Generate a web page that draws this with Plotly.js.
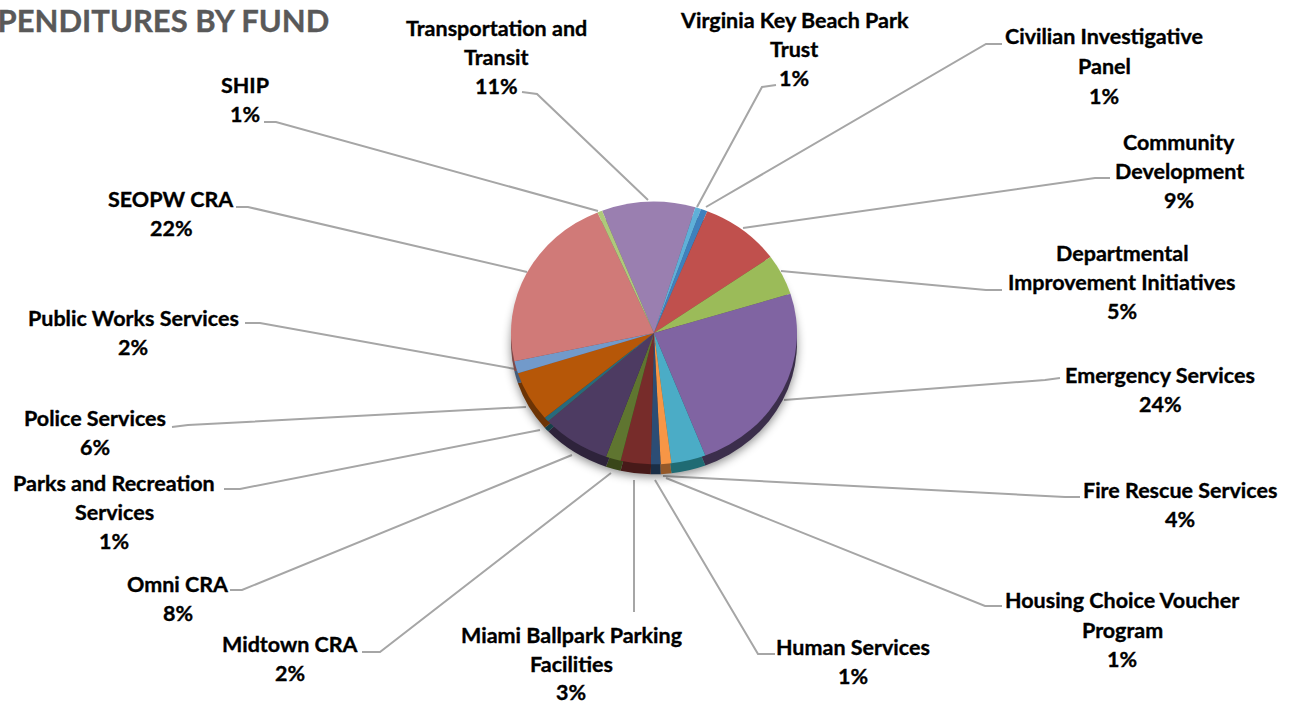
<!DOCTYPE html>
<html>
<head>
<meta charset="utf-8">
<script src="https://cdn.plot.ly/plotly-3.0.1.min.js"></script>
<style>html,body{margin:0;padding:0;background:#fff;overflow:hidden}#chart{width:1293px;height:702px}</style>
</head>
<body>
<div id="chart"></div>
<script>
var W = 1293, H = 702;
var categories = ["Transportation and Transit","Virginia Key Beach Park Trust","Civilian Investigative Panel","Community Development","Departmental Improvement Initiatives","Emergency Services","Fire Rescue Services","Housing Choice Voucher Program","Human Services","Miami Ballpark Parking Facilities","Midtown CRA","Omni CRA","Parks and Recreation Services","Police Services","Public Works Services","SEOPW CRA","SHIP"];
var values = [10.6,0.65,0.75,9.1,5.0,24.0,3.9,1.2,1.1,3.4,1.7,7.8,0.6,6.2,1.5,22.0,0.55];
var percentLabels = ["11%","1%","1%","9%","5%","24%","4%","1%","1%","3%","2%","8%","1%","6%","2%","22%","1%"];
var labelLines = [["Transportation and","Transit"],["Virginia Key Beach Park","Trust"],["Civilian Investigative","Panel"],["Community","Development"],["Departmental","Improvement Initiatives"],["Emergency Services"],["Fire Rescue Services"],["Housing Choice Voucher","Program"],["Human Services"],["Miami Ballpark Parking","Facilities"],["Midtown CRA"],["Omni CRA"],["Parks and Recreation","Services"],["Police Services"],["Public Works Services"],["SEOPW CRA"],["SHIP"]];
var colors = ["#9a7fb0","#5fb0d8","#3f80bd","#c0504d","#9bbb59","#8064a2","#4bacc6","#f79646","#2c4d75","#772c2a","#5f7530","#4d3b62","#276a7c","#b65708","#729aca","#d07a78","#afc97a"];
var rimColors = ["#5c4c6a","#396a82","#264d72","#73302e","#5d7035","#3b2e4b","#1f6b73","#94592a","#1a2e46","#471a19","#394619","#2e233b","#17404a","#6d3405","#445c79","#7d4948","#69784a"];
var labelCenterX = [496,794,1104,1179,1122,1160,1180,1122,853,571,290,178,114,95,133,171,245];
var labelFirstY = [28,20,36,142,253,375,490,600,647,635,644,584,483,418,318,199,85];
var labelStep = [29,29,30,29,29,29,29,29.5,29,28.5,29,29,29,29,29,29,29];
var leaderPaths = [
 [[522,92],[537,94],[648,200]],
 [[776,85],[762,87],[697,207]],
 [[1002,44],[986,44],[706,207]],
 [[1110,178],[1095,178],[743,228]],
 [[1002,290],[986,290],[781,271]],
 [[1060,378],[1045,380],[784,400]],
 [[1080,497],[1065,497],[663,476]],
 [[1002,606],[985,606],[666,478]],
 [[775,654],[758,654],[655,480]],
 [[634,612],[634,480]],
 [[362,652],[380,652],[611,473]],
 [[230,590],[242,590],[572,455]],
 [[224,489],[240,489],[540,430]],
 [[172,427],[188,425],[526,407]],
 [[245,323],[260,323],[515,369]],
 [[236,207],[248,207],[527,272]],
 [[264,122],[276,122],[598,211]]
];
var faceCenterY = 333, rimCenterY = 343, radius = 143, centerX = 654, squash = 0.918;
var textFamily = "Lato, 'Open Sans', sans-serif";

function pieDomain(cy){
  return {x:[(centerX-radius-1)/W,(centerX+radius+1)/W], y:[(H-cy-radius)/H,(H-cy+radius)/H]};
}
function pieTrace(cy, cols){
  return {type:"pie", labels:categories, values:values, sort:false, direction:"clockwise", rotation:-21.3,
    textinfo:"none", hoverinfo:"label+percent", showlegend:false, domain:pieDomain(cy),
    marker:{colors:cols, line:{width:0}}};
}
var traces = [pieTrace(rimCenterY, rimColors), pieTrace(faceCenterY, colors)];

var annotations = [{
  text:"<b>EXPENDITURES BY FUND</b>", xref:"paper", yref:"paper", x:331/W, y:1-20/H,
  xanchor:"right", yanchor:"middle", showarrow:false, align:"right",
  font:{family:textFamily, size:31, color:"#595959"}
}];
categories.forEach(function(c,i){
  var lines = labelLines[i].concat([percentLabels[i]]);
  lines.forEach(function(t,j){
    annotations.push({text:"<b>"+t+"</b>", xref:"paper", yref:"paper",
      x:labelCenterX[i]/W, y:1-(labelFirstY[i]+j*labelStep[i])/H,
      xanchor:"center", yanchor:"middle", showarrow:false,
      font:{family:textFamily, size:21.5, color:"#000"}});
  });
});
var shapes = leaderPaths.map(function(p){
  var d = p.map(function(q,k){return (k?"L":"M")+(q[0]/W)+" "+(1-q[1]/H);}).join(" ");
  return {type:"path", path:d, xref:"paper", yref:"paper", layer:"below", line:{color:"#a6a6a6", width:2}};
});

var layout = {width:W, height:H, margin:{l:0,r:0,t:0,b:0}, paper_bgcolor:"#fff", plot_bgcolor:"#fff",
  showlegend:false, annotations:annotations, shapes:shapes};

Plotly.newPlot("chart", traces, layout, {displayModeBar:false, staticPlot:true}).then(function(){
  var groups = document.querySelectorAll("#chart .pielayer .trace");
  var cys = [rimCenterY, faceCenterY];
  groups.forEach(function(g,i){
    var c = cys[i];
    g.setAttribute("transform","translate(0,"+c+") scale(1,"+squash+") translate(0,"+(-c)+")");
    if(i===0){ g.style.filter = "drop-shadow(0px 3px 5px rgba(0,0,0,0.45))"; }
  });
  document.querySelectorAll("#chart .annotation-text").forEach(function(t){
    t.style.stroke = t.style.fill;
    t.style.strokeWidth = "0.35px";
  });
});
</script>
</body>
</html>
